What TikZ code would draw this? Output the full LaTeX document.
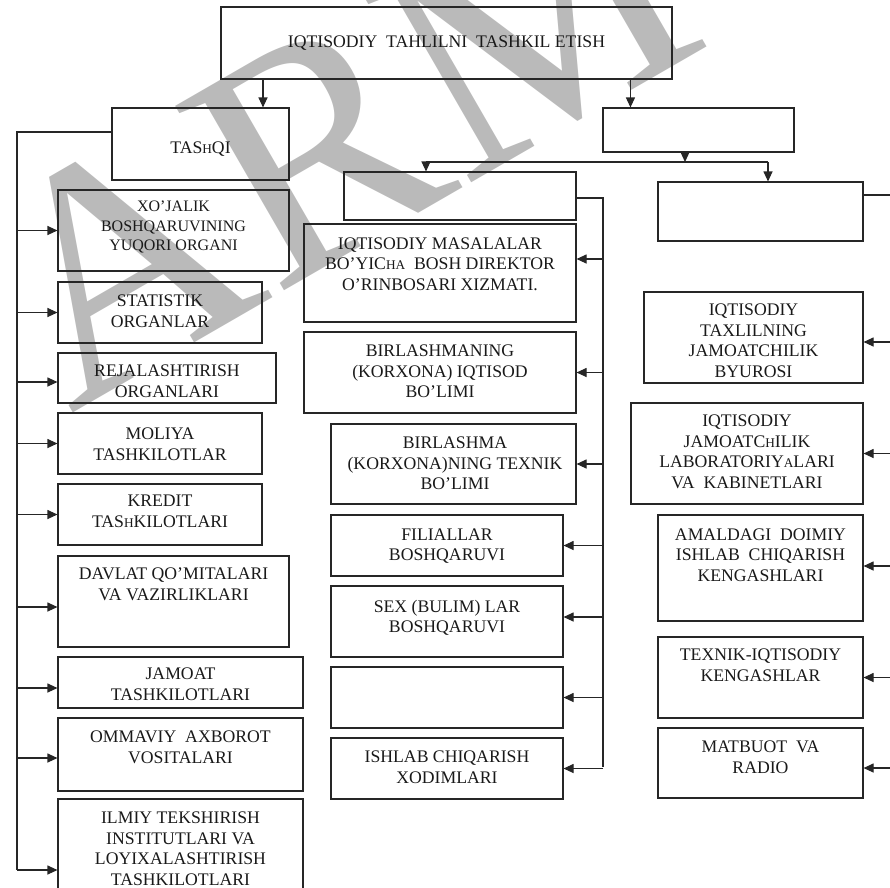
\documentclass[tikz,border=0pt]{standalone}
\usepackage{fontspec}
\setmainfont{Liberation Serif}
\usetikzlibrary{arrows.meta}
% smaller capital used inside a few words
\newcommand\lowcap[1]{{\fontsize{13.3}{20.5}\selectfont #1}}
\begin{document}
\begin{tikzpicture}[x=1pt,y=-1pt,
  box/.style={draw=black!85, line width=1.1pt, inner sep=0pt},
  txt/.style={anchor=north, align=center, inner sep=0pt, text=black!90,
    font=\fontsize{17.7}{20.5}\selectfont},
  wire/.style={draw=black!85, line width=1.1pt},
  arr/.style={wire, -{Triangle[length=10pt,width=9pt]}},
  wm/.style={text=black!27, inner sep=0pt, font=\fontsize{327}{327}\selectfont}]
\useasboundingbox (0,0) rectangle (890,887);
\clip (0,0) rectangle (890,887);

% watermark
\node[wm, rotate=30, anchor=base west] (wmark) at (70,415) {ARM};

% ---- top level ----
\node[box, minimum width=451pt, minimum height=72pt] (tb) at (446.5,43) {};
\node[txt] (tbt) at (446.5,36) {IQTISODIY\ \ TAHLILNI\ \ TASHKIL ETISH};

\node[box, minimum width=177pt, minimum height=72pt] (ta) at (200.5,144) {};
\node[txt] (tat) at (200.5,141.7) {TAS\lowcap{H}QI};

\node[box, minimum width=191pt, minimum height=44pt] (rb) at (698.5,130) {};

\node[box, minimum width=232pt, minimum height=48pt] (mh) at (460,196) {};
\node[box, minimum width=205pt, minimum height=59pt] (rh) at (760.5,211.5) {};

% ---- left column ----
\node[box, minimum width=231pt, minimum height=81pt] (l1) at (173.5,230.5) {};
\node[txt, font=\fontsize{16}{19.5}\selectfont] (l1t) at (173.5,201) {XO’JALIK\\BOSHQARUVINING\\YUQORI ORGANI};
\node[box, minimum width=204pt, minimum height=61pt] (l2) at (160,312.5) {};
\node[txt] (l2t) at (160,295) {STATISTIK\\ORGANLAR};
\node[box, minimum width=218pt, minimum height=50pt] (l3) at (167,378) {};
\node[txt] (l3t) at (167,365) {REJALASHTIRISH\\ORGANLARI};
\node[box, minimum width=204pt, minimum height=61pt] (l4) at (160,443.5) {};
\node[txt] (l4t) at (160,428) {MOLIYA\\TASHKILOTLAR};
\node[box, minimum width=204pt, minimum height=61pt] (l5) at (160,514.5) {};
\node[txt] (l5t) at (160,495) {KREDIT\\TAS\lowcap{H}KILOTLARI};
\node[box, minimum width=231pt, minimum height=91pt] (l6) at (173.5,601.5) {};
\node[txt] (l6t) at (173.5,567.7) {DAVLAT QO’MITALARI\\VA VAZIRLIKLARI};
\node[box, minimum width=245pt, minimum height=51pt] (l7) at (180.5,682.5) {};
\node[txt] (l7t) at (180.5,668) {JAMOAT\\TASHKILOTLARI};
\node[box, minimum width=245pt, minimum height=73pt] (l8) at (180.5,754.5) {};
\node[txt] (l8t) at (180.5,730.7) {OMMAVIY\ \ AXBOROT\\VOSITALARI};
\node[box, minimum width=245pt, minimum height=142pt] (l9) at (180.5,870) {};
\node[txt] (l9t) at (180.5,811.7) {ILMIY TEKSHIRISH\\INSTITUTLARI VA\\LOYIXALASHTIRISH\\TASHKILOTLARI};

% ---- middle column ----
\node[box, minimum width=272pt, minimum height=98pt] (m1) at (440,273) {};
\node[txt] (m1t) at (440,237.3) {IQTISODIY MASALALAR\\BO’YIC\lowcap{HA}\ \ BOSH DIREKTOR\\O’RINBOSARI XIZMATI.};
\node[box, minimum width=272pt, minimum height=81pt] (m2) at (440,372.5) {};
\node[txt] (m2t) at (440,345) {BIRLASHMANING\\(KORXONA) IQTISOD\\BO’LIMI};
\node[box, minimum width=245pt, minimum height=80pt] (m3) at (453.5,464) {};
\node[txt] (m3t) at (455,436.7) {BIRLASHMA\\(KORXONA)NING TEXNIK\\BO’LIMI};
\node[box, minimum width=232pt, minimum height=61pt] (m4) at (447,545.5) {};
\node[txt] (m4t) at (447,528.3) {FILIALLAR\\BOSHQARUVI};
\node[box, minimum width=232pt, minimum height=71pt] (m5) at (447,621.5) {};
\node[txt] (m5t) at (447,600) {SEX (BULIM) LAR\\BOSHQARUVI};
\node[box, minimum width=232pt, minimum height=61pt] (m6) at (447,697.5) {};
\node[box, minimum width=232pt, minimum height=61pt] (m7) at (447,768.5) {};
\node[txt] (m7t) at (447,750.7) {ISHLAB CHIQARISH\\XODIMLARI};

% ---- right column ----
\node[box, minimum width=219pt, minimum height=91pt] (r1) at (753.5,337.5) {};
\node[txt] (r1t) at (753.5,304) {IQTISODIY\\TAXLILNING\\JAMOATCHILIK\\BYUROSI};
\node[box, minimum width=232pt, minimum height=101pt] (r2) at (747,453.5) {};
\node[txt] (r2t) at (747,415) {IQTISODIY\\JAMOATC\lowcap{H}ILIK\\LABORATORIY\lowcap{A}LARI\\VA\ \ KABINETLARI};
\node[box, minimum width=205pt, minimum height=106pt] (r3) at (760.5,568) {};
\node[txt] (r3t) at (760.5,528.3) {AMALDAGI\ \ DOIMIY\\ISHLAB\ \ CHIQARISH\\KENGASHLARI};
\node[box, minimum width=205pt, minimum height=81pt] (r4) at (760.5,677.5) {};
\node[txt] (r4t) at (760.5,649) {TEXNIK-IQTISODIY\\KENGASHLAR};
\node[box, minimum width=205pt, minimum height=70pt] (r5) at (760.5,763) {};
\node[txt] (r5t) at (760.5,740.7) {MATBUOT\ \ VA\\RADIO};

% ---- spine ends and bus ----
\coordinate (lsp) at (17,870);
\coordinate (msp) at (603,767);
\coordinate (rsp) at (893,768);
\coordinate (busL) at (426,162);
\coordinate (busR) at (768,162);

% top-level arrows
\draw[arr] ([xshift=62.5pt]ta.north |- tb.south) -- ([xshift=62.5pt]ta.north);
\draw[arr] ([xshift=28pt]rb.north west |- tb.south) -- ([xshift=28pt]rb.north west);
\draw[wire] (busL) -- (busR);
\draw[arr] ([xshift=-13.5pt]rb.south) -- ([xshift=-13.5pt]rb.south |- busL);
\draw[arr] (busL) -- (busL |- mh.north);
\draw[arr] (busR) -- (busR |- rh.north);

% left spine
\draw[wire] ([yshift=12pt]ta.west) -| (lsp);
\draw[arr] (lsp |- l1.west) -- (l1.west);
\draw[arr] (lsp |- l2.west) -- (l2.west);
\draw[arr] ([yshift=-4pt]lsp |- l3.west) -- ([yshift=-4pt]l3.west);
\draw[arr] (lsp |- l4.west) -- (l4.west);
\draw[arr] (lsp |- l5.west) -- (l5.west);
\draw[arr] ([yshift=-5.5pt]lsp |- l6.west) -- ([yshift=-5.5pt]l6.west);
\draw[arr] ([yshift=-5.5pt]lsp |- l7.west) -- ([yshift=-5.5pt]l7.west);
\draw[arr] ([yshift=-3.5pt]lsp |- l8.west) -- ([yshift=-3.5pt]l8.west);
\draw[arr] (lsp |- l9.west) -- (l9.west);

% middle spine
\draw[wire] ([yshift=-2pt]mh.east) -| (msp);
\draw[arr] ([yshift=14pt]msp |- m1.east) -- ([yshift=14pt]m1.east);
\draw[arr] (msp |- m2.east) -- (m2.east);
\draw[arr] (msp |- m3.east) -- (m3.east);
\draw[arr] (msp |- m4.east) -- (m4.east);
\draw[arr] ([yshift=4.5pt]msp |- m5.east) -- ([yshift=4.5pt]m5.east);
\draw[arr] (msp |- m6.east) -- (m6.east);
\draw[arr] (msp |- m7.east) -- (m7.east);

% right spine
\draw[wire] ([yshift=16.5pt]rh.east) -| (rsp);
\draw[arr] ([yshift=-4.5pt]rsp |- r1.east) -- ([yshift=-4.5pt]r1.east);
\draw[arr] (rsp |- r2.east) -- (r2.east);
\draw[arr] ([yshift=2pt]rsp |- r3.east) -- ([yshift=2pt]r3.east);
\draw[arr] (rsp |- r4.east) -- (r4.east);
\draw[arr] ([yshift=-5pt]rsp |- r5.east) -- ([yshift=-5pt]r5.east);
\end{tikzpicture}
\end{document}
